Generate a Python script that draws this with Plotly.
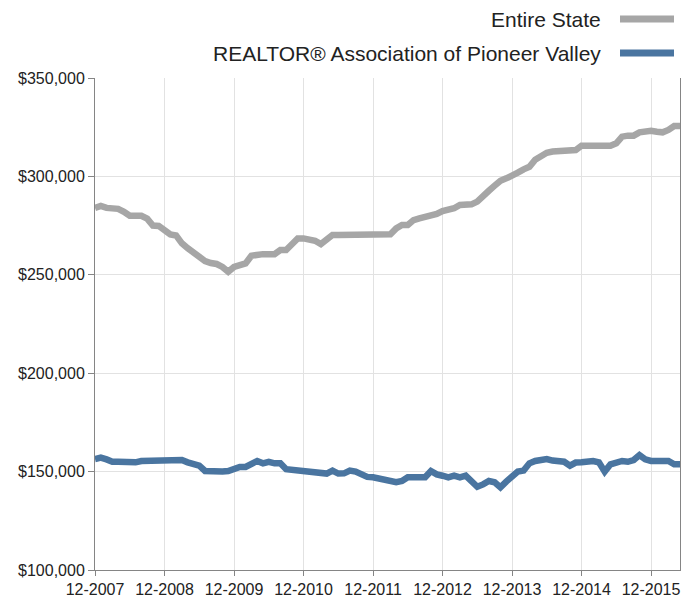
import plotly.graph_objects as go

# Monthly categories 12-2007 .. 05-2016
months = []
y, m = 2007, 12
for _ in range(102):
    months.append(f"{m:02d}-{y}")
    m += 1
    if m > 12:
        m = 1
        y += 1

entire_state = [
    284000, 285000, 284000, 283500, 283500, 282000, 280000, 280000, 280000, 278500,
    275000, 274800, 273000, 270500, 270000, 266000, 263500, 261000, 259000, 257000,
    256000, 255500, 254000, 251500, 254000, 255000, 255800, 259700, 260500, 260500,
    260500, 260500, 262600, 262600, 265500, 268500, 268500, 267700, 267300, 265600,
    268000, 270200, 270200, 270200, 270200, 270200, 270200, 270200, 270200, 270200,
    270200, 270600, 273600, 275300, 275300, 277800, 278700, 279500, 279500, 280900,
    282400, 282900, 283800, 285500, 285500, 285800, 287200, 290500, 292700, 295300,
    297800, 299000, 300200, 301900, 303600, 304900, 308500, 310500, 312000, 312600,
    312600, 312600, 312600, 313400, 315600, 315600, 315600, 315600, 315600, 315600,
    316800, 320200, 320700, 320700, 322400, 323200, 323200, 322700, 322400, 323600,
    325600, 325600,
]

pioneer_valley = [
    156400, 157100, 156200, 155000, 155000, 155000, 154500, 154700, 155400, 155400,
    155400, 155400, 155400, 155400, 155400, 155900, 154700, 153400, 153000, 150300,
    150000, 150000, 150000, 150300, 151300, 152400, 152400, 153700, 155400, 154200,
    155000, 154200, 154200, 151200, 150800, 150300, 150300, 150000, 149000, 149000,
    149000, 150500, 149000, 149100, 150500, 150000, 148300, 147300, 147100, 146600,
    145500, 144900, 144600, 145200, 147100, 147100, 147100, 147100, 150300, 148600,
    147900, 147100, 147900, 147100, 147900, 144900, 142300, 143500, 145200, 144600,
    142000, 144900, 147800, 150000, 150500, 154200, 155400, 155600, 156400, 155600,
    155400, 155000, 153000, 154600, 154700, 155400, 155400, 154700, 150000, 153700,
    155000, 155400, 155000, 155900, 158400, 156200, 155400, 155400, 155000, 155400,
    153700, 153700,
]

tick_labels = [c for c in months if c.startswith("12-")]
series_names = ["Entire State", "REALTOR® Association of Pioneer Valley"]
series_colors = ["#a6a6a6", "#4a75a0"]

FONT = "Liberation Sans, Arial, Helvetica, sans-serif"

fig = go.Figure()
for name, vals, col in zip(series_names, [entire_state, pioneer_valley], series_colors):
    fig.add_trace(go.Scatter(
        x=months, y=vals, mode="lines", name=name,
        line=dict(color=col, width=6.5),
        hoverinfo="x+y",
    ))

# manual legend (text left of the line symbol, right-aligned)
W, H = 692, 598
L, R, T, B = 95, 12, 78, 28
pw, ph = W - L - R, H - T - B

def px_x(px):
    return (px - L) / pw

def px_y(py):
    return (H - B - py) / ph

annotations = []
shapes = []
for k, (name, col) in enumerate(zip(series_names, series_colors)):
    yy = [19, 53][k]
    annotations.append(dict(
        x=px_x(603), y=px_y(yy), xref="paper", yref="paper",
        text=name, showarrow=False, xanchor="right", yanchor="middle",
        font=dict(family=FONT, size=21, color="#222222"),
    ))
    shapes.append(dict(
        type="line", xref="paper", yref="paper",
        x0=px_x(620), x1=px_x(674), y0=px_y(yy), y1=px_y(yy),
        line=dict(color=col, width=7),
    ))

fig.update_layout(
    width=W, height=H,
    margin=dict(l=L, r=R, t=T, b=B, pad=0, autoexpand=False),
    paper_bgcolor="white", plot_bgcolor="white",
    showlegend=False,
    font=dict(family=FONT, size=16, color="#222222"),
    annotations=annotations,
    shapes=shapes,
    xaxis=dict(
        type="category",
        range=[0, len(months) - 1],
        tickmode="array", tickvals=tick_labels, ticktext=tick_labels,
        showgrid=True, gridcolor="#e2e2e2", gridwidth=1,
        showline=True, linecolor="#858585", linewidth=1,
        ticks="outside", ticklen=5, tickcolor="#858585",
        tickfont=dict(family=FONT, size=16, color="#222222"),
        zeroline=False, fixedrange=True, automargin=False,
    ),
    yaxis=dict(
        range=[100000, 350000], dtick=50000, tick0=100000,
        tickformat="$,.0f",
        showgrid=True, gridcolor="#e2e2e2", gridwidth=1,
        showline=True, linecolor="#858585", linewidth=1, mirror=True,
        ticks="outside", ticklen=6, tickcolor="#858585",
        tickfont=dict(family=FONT, size=16, color="#222222"),
        zeroline=False, fixedrange=True, automargin=False,
    ),
)

fig.write_html(
    "out.html",
    config={"displayModeBar": False},
    post_script="document.body.style.margin='0';document.body.style.overflow='hidden';",
)
